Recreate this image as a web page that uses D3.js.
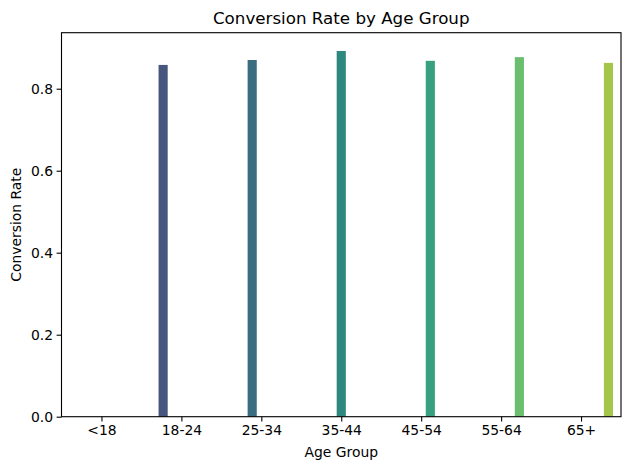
<!DOCTYPE html>
<html>
<head>
<meta charset="utf-8">
<script src="https://cdn.jsdelivr.net/npm/d3@7"></script>
<style>
  html, body { margin: 0; padding: 0; background: #fff; }
  svg { display: block; font-family: "DejaVu Sans", sans-serif; }
</style>
</head>
<body>
<svg id="chart" width="630" height="470"></svg>
<script>
// Data
const categories = ["<18", "18-24", "25-34", "35-44", "45-54", "55-64", "65+"];
const conversionRates = [null, 0.858, 0.870, 0.892, 0.868, 0.877, 0.863];
const barColors = ["#4a2e78", "#46567f", "#3a6d80", "#2e887e", "#38a07e", "#6bbe6e", "#a4c64a"];
const yTicks = [0.0, 0.2, 0.4, 0.6, 0.8];
const titleText = "Conversion Rate by Age Group";
const xLabel = "Age Group";
const yLabel = "Conversion Rate";

const svg = d3.select("#chart");
const margin = { left: 61.5, right: 9, top: 32.7, bottom: 53.3 };
const W = 630, H = 470;
const plotW = W - margin.left - margin.right;
const plotH = H - margin.top - margin.bottom;

const maxV = d3.max(conversionRates.filter(v => v != null));
const x = d3.scaleLinear().domain([-0.5, categories.length - 0.5]).range([margin.left, margin.left + plotW]);
const y = d3.scaleLinear().domain([0, maxV * 1.05]).range([margin.top + plotH, margin.top]);

// bars (hue-dodged like seaborn)
const nHue = categories.length;
const bw = 0.8 / nHue;
const bars = categories.map((c, i) => ({ c, i, v: conversionRates[i] })).filter(d => d.v != null);
svg.append("g").selectAll("rect").data(bars).enter().append("rect")
  .attr("x", d => x(d.i - 0.4 + d.i * bw))
  .attr("width", d => x(bw) - x(0))
  .attr("y", d => y(d.v))
  .attr("height", d => y(0) - y(d.v))
  .attr("fill", d => barColors[d.i]);

// axes
const xAxis = d3.axisBottom(x).tickValues(d3.range(categories.length)).tickFormat(i => categories[i]).tickSize(4.9).tickPadding(3.5);
const gx = svg.append("g").attr("transform", `translate(0,${margin.top + plotH})`).call(xAxis);
const yAxis = d3.axisLeft(y).tickValues(yTicks).tickFormat(d3.format(".1f")).tickSize(4.9).tickPadding(3.5);
const gy = svg.append("g").attr("transform", `translate(${margin.left},0)`).call(yAxis);
[gx, gy].forEach(g => {
  g.select(".domain").remove();
  g.selectAll("line").attr("stroke", "#000").attr("stroke-width", 1.1);
  g.selectAll("text").attr("fill", "#000").style("font-size", "13.9px").style("font-family", "DejaVu Sans");
});

// frame
svg.append("rect")
  .attr("x", margin.left).attr("y", margin.top)
  .attr("width", plotW).attr("height", plotH)
  .attr("fill", "none").attr("stroke", "#000").attr("stroke-width", 1.1);

// title & labels
svg.append("text").attr("x", margin.left + plotW / 2).attr("y", 23.5)
  .attr("text-anchor", "middle").style("font-size", "16.7px").attr("fill", "#000").text(titleText);
svg.append("text").attr("x", margin.left + plotW / 2).attr("y", 457)
  .attr("text-anchor", "middle").style("font-size", "13.9px").attr("fill", "#000").text(xLabel);
svg.append("text").attr("transform", `translate(21,${margin.top + plotH / 2}) rotate(-90)`)
  .attr("text-anchor", "middle").style("font-size", "13.9px").attr("fill", "#000").text(yLabel);
</script>
</body>
</html>
